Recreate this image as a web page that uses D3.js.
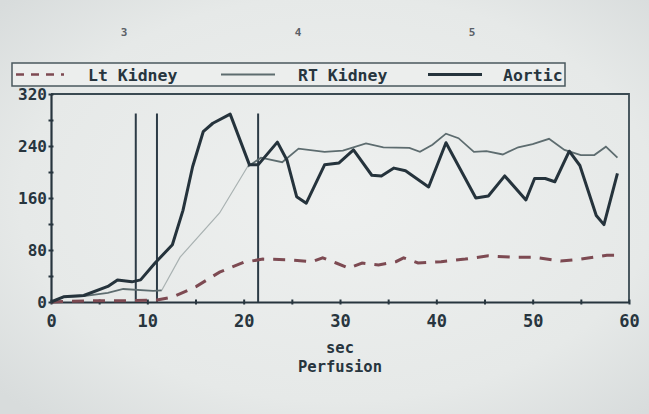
<!DOCTYPE html>
<html>
<head>
<meta charset="utf-8">
<script src="https://cdn.jsdelivr.net/npm/d3@7/dist/d3.min.js"></script>
<style>
  html, body { margin: 0; padding: 0; background: #e6e9e8; }
  svg { display: block; }
  text { font-family: "DejaVu Sans Mono", "Liberation Mono", monospace; font-weight: bold; }
</style>
</head>
<body>
<svg id="chart" width="649" height="414"></svg>
<script>
// ---- data ----
const seriesNames = ["Lt Kidney", "RT Kidney", "Aortic"];
const xTickValues = [0, 10, 20, 30, 40, 50, 60];
const yTickValues = [0, 80, 160, 240, 320];
const pageLabels = ["3", "4", "5"];
const markerTimes = [8.8, 11.0, 21.5];
const markerTop = 290;

// [seconds, value]
const ltKidney = [
  [0,0],[2,1],[5,2],[8,2],[11,3],[12.7,8],[15.1,24],[17.5,46],[20,61],[22,66],
  [24.7,65],[27.1,62],[28.2,68],[29.6,60],[30.9,52],[32.3,60],[34,57],[35.8,62],
  [36.6,68],[38.1,60],[40.5,62],[43,66],[45.4,71],[47.7,69],[50.2,69],[52.9,63],
  [55,66],[57.7,72],[58.6,72]
];
const rtKidney = [
  [0,0],[1.3,8],[3.4,9],[5.9,14],[7.5,20],[10.6,17],[11.5,18],
  [13.4,69],[17.5,137],[20.4,208],
  [21.8,222],[24,215],[25.7,236],[28.4,231],[30.3,233],[32.7,244],[34.5,238],
  [37.2,237],[38.3,231],[39.6,242],[41,259],[42.3,252],[43.9,231],[45.2,232],
  [46.9,227],[48.5,238],[50,243],[51.7,251],[53.3,234],[55,226],[56.4,226],
  [57.6,239],[58.8,222]
];
const rtFaintRange = [11.5, 20.4];
const aortic = [
  [0,0],[1.3,8],[3.4,10],[5.9,24],[6.9,34],[8.4,31],[9.3,34],[10.8,60],[12.6,88],
  [13.7,141],[14.7,208],[15.8,262],[16.8,275],[18.6,289],[20.6,211],[21.5,211],
  [23.5,246],[24.5,218],[25.5,162],[26.5,152],[28.4,211],[29.9,214],[31.4,234],
  [33.3,195],[34.3,194],[35.6,206],[36.8,202],[39.2,177],[41,245],[44.1,160],
  [45.4,163],[47.1,194],[49.3,157],[50.2,190],[51.3,190],[52.3,185],[53.8,232],
  [54.9,210],[56.6,133],[57.4,119],[58.8,198]
];

// ---- drawing ----
const svg = d3.select("#chart");
const W = 649, H = 414;
const ink = "#27353e";

const defs = svg.append("defs");
const grad = defs.append("radialGradient").attr("id", "paper")
  .attr("cx", "52%").attr("cy", "48%").attr("r", "70%");
grad.append("stop").attr("offset", "0%").attr("stop-color", "#eef0ef");
grad.append("stop").attr("offset", "70%").attr("stop-color", "#e6e9e8");
grad.append("stop").attr("offset", "100%").attr("stop-color", "#d8dcdc");
svg.append("rect").attr("width", W).attr("height", H).attr("fill", "url(#paper)");

const x = d3.scaleLinear().domain([0, 60]).range([51, 629]);
const y = d3.scaleLinear().domain([0, 320]).range([302, 94]);

// top page numbers
const pageX = d3.scalePoint().domain(pageLabels).range([124, 472]);
svg.append("g").selectAll("text").data(pageLabels).join("text")
  .attr("x", d => pageX(d)).attr("y", 36)
  .attr("text-anchor", "middle").attr("font-size", 11)
  .attr("fill", "#5a6066").text(d => d);

// frame (top + right)
svg.append("path")
  .attr("d", `M${x(0)},${y(320)}H${x(60)}V${y(0)}`)
  .attr("fill", "none").attr("stroke", "#3a4a52").attr("stroke-width", 1.8);

// axes
const xAxis = d3.axisBottom(x).tickValues(d3.range(0, 61, 5))
  .tickFormat(d => xTickValues.includes(d) ? d : "").tickSize(0).tickPadding(13);
const gx = svg.append("g").attr("transform", `translate(0,${y(0)})`).call(xAxis);
gx.select(".domain").attr("stroke", ink).attr("stroke-width", 2.2);
gx.selectAll(".tick line").attr("y1", -2.5).attr("y2", 2.5).attr("stroke", ink).attr("stroke-width", 2);
gx.selectAll(".tick text").attr("font-size", 17).attr("fill", ink)
  .attr("font-family", "DejaVu Sans Mono").attr("font-weight", "bold");

const yAxis = d3.axisLeft(y).tickValues(d3.range(0, 321, 40))
  .tickFormat(d => yTickValues.includes(d) ? d : "").tickSize(0).tickPadding(4);
const gy = svg.append("g").attr("transform", `translate(${x(0)},0)`).call(yAxis);
gy.select(".domain").attr("stroke", ink).attr("stroke-width", 2.2);
gy.selectAll(".tick line").attr("x1", -2.5).attr("x2", 2.5).attr("stroke", ink).attr("stroke-width", 2);
gy.selectAll(".tick text").attr("font-size", 16).attr("fill", ink)
  .attr("font-family", "DejaVu Sans Mono").attr("font-weight", "bold");

// marker lines
svg.append("g").selectAll("line").data(markerTimes).join("line")
  .attr("x1", d => x(d)).attr("x2", d => x(d))
  .attr("y1", y(0)).attr("y2", y(markerTop))
  .attr("stroke", "#2c3b46").attr("stroke-width", 2);

const line = d3.line().x(d => x(d[0])).y(d => y(d[1]));

// Lt Kidney dashed
svg.append("path").datum(ltKidney).attr("d", line)
  .attr("fill", "none").attr("stroke", "#7d4a52").attr("stroke-width", 3)
  .attr("stroke-dasharray", "12,9");

// RT Kidney: solid thin, faint in the rising section
const rtA = rtKidney.filter(d => d[0] <= rtFaintRange[0]);
const rtB = rtKidney.filter(d => d[0] >= rtFaintRange[0] && d[0] <= rtFaintRange[1]);
const rtC = rtKidney.filter(d => d[0] >= rtFaintRange[1]);
[rtA, rtC].forEach(part => svg.append("path").datum(part).attr("d", line)
  .attr("fill", "none").attr("stroke", "#5d6c6f").attr("stroke-width", 1.8));
svg.append("path").datum(rtB).attr("d", line)
  .attr("fill", "none").attr("stroke", "#a9b2b2").attr("stroke-width", 1.2);

// Aortic thick
svg.append("path").datum(aortic).attr("d", line)
  .attr("fill", "none").attr("stroke", "#25333c").attr("stroke-width", 3)
  .attr("stroke-linejoin", "round");

// legend
const lg = svg.append("g");
lg.append("rect").attr("x", 12).attr("y", 63).attr("width", 553).attr("height", 23)
  .attr("fill", "#eceeed").attr("stroke", "#4a585e").attr("stroke-width", 1.5);
const legendItems = [
  {name: seriesNames[0], x1: 16, x2: 64, tx: 88, stroke: "#7d4a52", w: 2.5, dash: "8,7"},
  {name: seriesNames[1], x1: 221, x2: 275, tx: 298, stroke: "#5d6c6f", w: 1.8, dash: null},
  {name: seriesNames[2], x1: 428, x2: 482, tx: 503, stroke: "#25333c", w: 3, dash: null}
];
legendItems.forEach(it => {
  lg.append("line").attr("x1", it.x1).attr("x2", it.x2).attr("y1", 74.5).attr("y2", 74.5)
    .attr("stroke", it.stroke).attr("stroke-width", it.w)
    .attr("stroke-dasharray", it.dash);
  lg.append("text").attr("x", it.tx).attr("y", 80.5).attr("font-size", 16.5)
    .attr("fill", ink).text(it.name);
});

// axis titles
svg.append("text").attr("x", (x(0) + x(60)) / 2).attr("y", 353).attr("text-anchor", "middle")
  .attr("font-size", 15.5).attr("fill", ink).text("sec");
svg.append("text").attr("x", (x(0) + x(60)) / 2).attr("y", 372).attr("text-anchor", "middle")
  .attr("font-size", 15.5).attr("fill", ink).text("Perfusion");
</script>
</body>
</html>
